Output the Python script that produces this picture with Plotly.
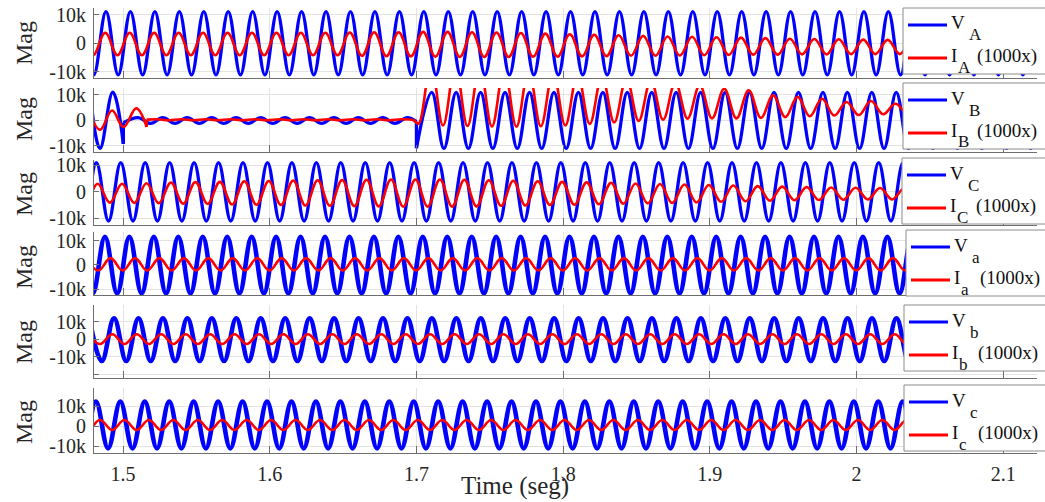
import plotly.graph_objects as go

W, H = 1045, 502
PERIOD = 1 / 60.0  # 60 Hz network

# ---------------- axes ----------------
T_RANGE = [1.4802, 2.123]
x_tick_vals = [1.5, 1.6, 1.7, 1.8, 1.9, 2.0, 2.1]
x_tick_text = ["1.5", "1.6", "1.7", "1.8", "1.9", "2", "2.1"]
y_tick_vals = [-20000, -10000, 0, 10000, 20000]
y_tick_text = ["", "-10k", "0", "10k", ""]

# ---------------- waveform crests / troughs (per cycle) ----------------
# Phase A, HV side
VA_t0 = 1.4717
VA_hi = [11100] * 40
VA_lo = [-11100] * 40
IA_t0 = 1.4712
IA_hi = [3700, 3700, 3700, 3700, 3700, 3700, 3700, 3700, 3700, 3700, 3700,
         3800, 3900, 3900, 4000, 4000, 3900, 3800,
         3600, 3400, 3200, 3000, 2800, 2600, 2400,
         2300, 2100, 2000, 1800, 1600, 1500, 1400,
         1300, 1200, 1200, 1200, 1100, 1100, 1000, 1000]
IA_lo = [-4200, -4200, -4200, -4200, -4200, -4200, -4200, -4200, -4200, -4200, -4200,
         -4400, -4500, -4600, -4700, -4800, -4800, -4800, -4700, -4700, -4600,
         -4500, -4400, -4400, -4300, -4200, -4100, -4000, -4000, -3900, -3900,
         -3800, -3800, -3800, -3800, -3800, -3800, -3800, -3800, -3800]

# Phase B, HV side: fault, pole opening at 1.5 s, reclosing at 1.7 s
VB_pre_t = [1.4775, 1.4843, 1.4930, 1.5002]
VB_pre_v = [11000, -11000, 11100, -9200]
VB_open_start = (1.5002, -900)
VB_open_t0 = 1.5104
VB_open_hi = [1100] * 12
VB_open_lo = [-1200] * 11
VB_open_end = (1.7000, -500)
VB_close_start = (1.7000, -10900)
VB_close_t0 = 1.7104
VB_close_hi = [11000] * 26
VB_close_lo = [-11000] * 26

IB_pre_t = [1.4768, 1.4843, 1.4925, 1.5003, 1.5090, 1.5161]
IB_pre_v = [3500, -3700, 3900, -2600, 4700, -2600]
IB_open_start = (1.5161, 300)
IB_open_t0 = 1.5230
IB_open_hi = [450] * 11
IB_open_lo = [50] * 11
IB_close_dip = (1.7014, -1300)
IB_close_t0 = 1.7098
IB_close_hi = [22000, 21500, 21000, 20400, 19700, 19000, 18200, 17400, 16600, 15800,
               14900, 13800, 12400, 11800, 9800, 9200, 8500, 7200, 7600, 6500,
               6300, 6100, 5900, 5800, 5700, 5600]
IB_close_lo = [-2000, -2200, -2400, -2500, -2300, -2000, -1400, -800, -200, 300,
               700, 800, 800, 1000, 1300, 1600, 1900, 2100, 2400, 2600,
               2800, 3000, 3100, 3200, 3300, 3400]

# Phase C, HV side
VC_t0 = 1.4651
VC_hi = [10900] * 40
VC_lo = [-11000] * 40
IC_t0 = 1.4660
IC_hi = [3000, 3000, 3000, 3200, 3400, 3600, 3700, 3900, 4000, 4200, 4300, 4400,
         4500, 4600, 4600, 4600, 4500, 4300, 4100, 3900, 3700, 3500, 3300,
         3100, 2900, 2700, 2500, 2300, 2100, 1900, 1700, 1600,
         1500, 1400, 1300, 1300, 1200, 1200, 1100, 1100]
IC_lo = [-4100, -4100, -4200, -4300, -4500, -4600, -4800, -4900, -5000, -5200, -5300, -5400,
         -5500, -5600, -5600, -5600, -5500, -5300, -5200, -5000, -4900, -4700, -4500,
         -4400, -4200, -4000, -3800, -3600, -3400, -3200, -3100, -3000,
         -2900, -2900, -2800, -2800, -2700, -2700, -2600, -2600]

# LV side phases a, b, c
Va_t0, Va_hi, Va_lo = 1.4710, [11600] * 40, [-11700] * 40
Ia_t0, Ia_hi, Ia_lo = 1.4748, [2800] * 40, [-2300] * 40
Vb_t0, Vb_hi, Vb_lo = 1.4772, [12100] * 40, [-12300] * 40
Ib_t0, Ib_hi, Ib_lo = 1.4760, [3000] * 40, [-2600] * 40
Vc_t0, Vc_hi, Vc_lo = 1.4648, [12200] * 40, [-11200] * 40
Ic_t0, Ic_hi, Ic_lo = 1.4676, [3000] * 40, [-2000] * 40

# ---------------- panel geometry (pixels) ----------------
panel_px = [(8, 78), (88, 152), (160, 225), (232, 295), (305, 378), (388, 453)]
y_ranges = [(-12200, 12400), (-12400, 12700), (-12500, 11900),
            (-12400, 13600), (-22000, 19700), (-13500, 19000)]
legend_px = [(903, 8), (903, 83), (902, 158), (906, 230), (904, 305), (904, 385)]
legend_sub = ["A", "B", "C", "a", "b", "c"]
mag_y_px = [43, 119, 194, 267, 342, 422]
X_LEFT, X_RIGHT = 94, 1037

BLUE, RED = "#0000ff", "#ff0000"
AXIS_COL, GRID_COL, TEXT_COL = "#6e6e6e", "#e3e3e3", "#262626"
FONT = "Liberation Serif, Times New Roman, serif"


def crest_trough(t_first, hi, lo):
    t, v = [], []
    for k in range(max(len(hi), len(lo))):
        if k < len(hi):
            t.append(t_first + k * PERIOD)
            v.append(hi[k])
        if k < len(lo):
            t.append(t_first + (k + 0.5) * PERIOD)
            v.append(lo[k])
    return t, v


fig = go.Figure()


def add_line(row, t, v, color, width, name, shape="spline"):
    suffix = "" if row == 1 else str(row)
    fig.add_trace(go.Scatter(
        x=t, y=v, mode="lines", name=name, showlegend=False,
        line=dict(color=color, width=width, shape=shape, smoothing=1.1),
        xaxis="x" + suffix, yaxis="y" + suffix, hoverinfo="skip"))


V_W_HV, V_W_LV, I_W = 3.3, 4.6, 2.6

# panel 1
add_line(1, *crest_trough(VA_t0, VA_hi, VA_lo), BLUE, V_W_HV, "VA")
add_line(1, *crest_trough(IA_t0, IA_hi, IA_lo), RED, I_W, "IA")

# panel 2
add_line(2, VB_pre_t, VB_pre_v, BLUE, V_W_HV, "VB")
add_line(2, [VB_pre_t[-1], VB_open_start[0]], [VB_pre_v[-1], VB_open_start[1]], BLUE, V_W_HV, "VB", "linear")
t_o, v_o = crest_trough(VB_open_t0, VB_open_hi, VB_open_lo)
add_line(2, [VB_open_start[0]] + t_o + [VB_open_end[0]],
         [VB_open_start[1]] + v_o + [VB_open_end[1]], BLUE, V_W_HV, "VB")
add_line(2, [VB_open_end[0], VB_close_start[0]], [VB_open_end[1], VB_close_start[1]], BLUE, V_W_HV, "VB", "linear")
t_c, v_c = crest_trough(VB_close_t0, VB_close_hi, VB_close_lo)
add_line(2, [VB_close_start[0]] + t_c, [VB_close_start[1]] + v_c, BLUE, V_W_HV, "VB")

add_line(2, IB_pre_t, IB_pre_v, RED, I_W, "IB")
add_line(2, [IB_pre_t[-1], IB_open_start[0]], [IB_pre_v[-1], IB_open_start[1]], RED, I_W, "IB", "linear")
t_o, v_o = crest_trough(IB_open_t0, IB_open_hi, IB_open_lo)
t_c, v_c = crest_trough(IB_close_t0, IB_close_hi, IB_close_lo)
add_line(2, [IB_open_start[0]] + t_o + [IB_close_dip[0]] + t_c,
         [IB_open_start[1]] + v_o + [IB_close_dip[1]] + v_c, RED, I_W, "IB")

# panel 3
add_line(3, *crest_trough(VC_t0, VC_hi, VC_lo), BLUE, V_W_HV, "VC")
add_line(3, *crest_trough(IC_t0, IC_hi, IC_lo), RED, I_W, "IC")
# panels 4-6
add_line(4, *crest_trough(Va_t0, Va_hi, Va_lo), BLUE, V_W_LV, "Va")
add_line(4, *crest_trough(Ia_t0, Ia_hi, Ia_lo), RED, I_W, "Ia")
add_line(5, *crest_trough(Vb_t0, Vb_hi, Vb_lo), BLUE, V_W_LV, "Vb")
add_line(5, *crest_trough(Ib_t0, Ib_hi, Ib_lo), RED, I_W, "Ib")
add_line(6, *crest_trough(Vc_t0, Vc_hi, Vc_lo), BLUE, V_W_LV, "Vc")
add_line(6, *crest_trough(Ic_t0, Ic_hi, Ic_lo), RED, I_W, "Ic")

layout = dict(
    width=W, height=H, margin=dict(l=0, r=0, t=0, b=0, autoexpand=False),
    paper_bgcolor="white", plot_bgcolor="white", showlegend=False,
    font=dict(family=FONT, color=TEXT_COL),
)
shapes, annotations = [], []

for i, ((top, bot), yr) in enumerate(zip(panel_px, y_ranges), start=1):
    suffix = "" if i == 1 else str(i)
    layout["xaxis" + suffix] = dict(
        domain=[X_LEFT / W, X_RIGHT / W], range=T_RANGE, anchor="y" + suffix,
        showline=True, linecolor=AXIS_COL, linewidth=1, mirror=False,
        ticks="inside", ticklen=7, tickcolor=AXIS_COL,
        tickvals=x_tick_vals, ticktext=x_tick_text, showticklabels=(i == 6),
        tickfont=dict(size=20, family=FONT, color=TEXT_COL), ticklabelstandoff=3,
        showgrid=True, gridcolor=GRID_COL, zeroline=False)
    layout["yaxis" + suffix] = dict(
        domain=[1 - bot / H, 1 - top / H], range=list(yr), anchor="x" + suffix,
        showline=True, linecolor=AXIS_COL, linewidth=1,
        ticks="inside", ticklen=5, tickcolor=AXIS_COL,
        tickvals=y_tick_vals, ticktext=y_tick_text,
        tickfont=dict(size=20, family=FONT, color=TEXT_COL), ticklabelstandoff=3,
        showgrid=True, gridcolor=GRID_COL, zeroline=False)
    annotations.append(dict(
        text="Mag", x=24 / W, y=1 - mag_y_px[i - 1] / H, xref="paper", yref="paper",
        textangle=-90, showarrow=False, xanchor="center", yanchor="middle",
        font=dict(size=24, family=FONT, color=TEXT_COL)))

    # legend box
    bx, by = legend_px[i - 1]
    sub = legend_sub[i - 1]
    shapes.append(dict(type="rect", xref="paper", yref="paper", layer="above",
                       x0=bx / W, x1=1060 / W, y0=1 - by / H, y1=1 - (by + 66) / H,
                       fillcolor="white", line=dict(color="#8c8c8c", width=1)))
    for dy, col in ((17, BLUE), (50, RED)):
        shapes.append(dict(type="line", xref="paper", yref="paper", layer="above",
                           x0=(bx + 5) / W, x1=(bx + 44) / W,
                           y0=1 - (by + dy) / H, y1=1 - (by + dy) / H,
                           line=dict(color=col, width=3)))
    for txt, dx, dy, size in (("V", 46, 15, 19), (sub, 64, 27, 17),
                              ("I", 46, 47, 19), (sub, 53, 59, 17),
                              ("(1000x)", 72, 48, 19)):
        annotations.append(dict(
            text=txt, x=(bx + dx) / W, y=1 - (by + dy) / H, xref="paper", yref="paper",
            showarrow=False, xanchor="left", yanchor="middle",
            font=dict(size=size, family=FONT, color="#111111")))

annotations.append(dict(
    text="Time (seg)", x=515 / W, y=0, xref="paper", yref="paper",
    showarrow=False, xanchor="center", yanchor="bottom",
    font=dict(size=25, family=FONT, color=TEXT_COL)))

layout["shapes"] = shapes
layout["annotations"] = annotations
fig.update_layout(**layout)
fig.write_html("out.html")
